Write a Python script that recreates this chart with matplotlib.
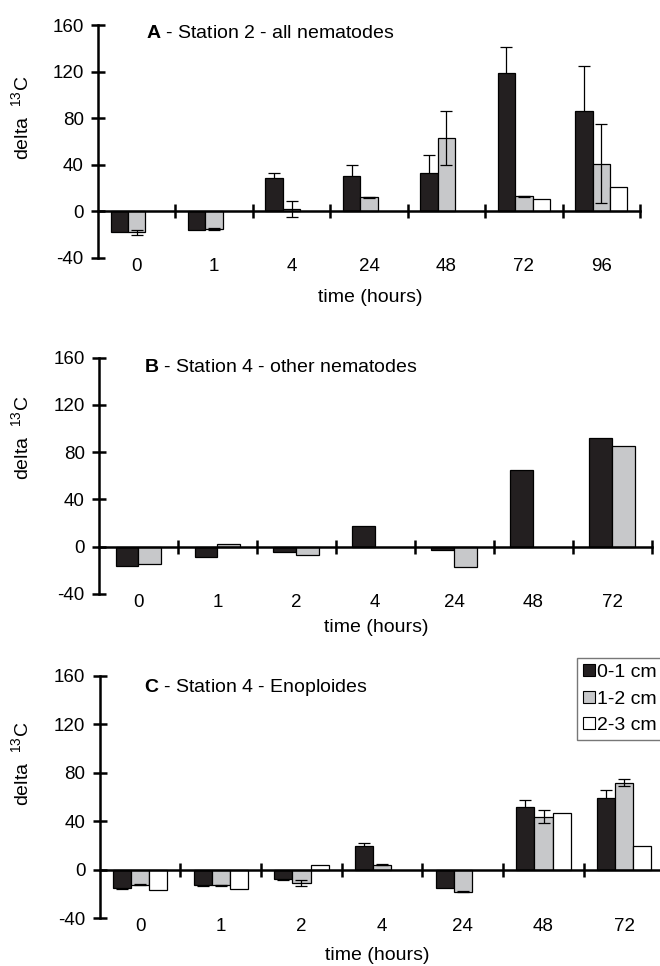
import numpy as np
import matplotlib
matplotlib.use("Agg")
import matplotlib.pyplot as plt
from matplotlib.lines import Line2D

plt.rcParams['font.family'] = ['Liberation Sans', 'DejaVu Sans']
plt.rcParams['mathtext.fontset'] = 'custom'
plt.rcParams['mathtext.rm'] = 'Liberation Sans'
plt.rcParams['mathtext.bf'] = 'Liberation Sans:bold'

nan = np.nan
series_labels = ['0-1 cm', '1-2 cm', '2-3 cm']

hours_A = ['0', '1', '4', '24', '48', '72', '96']
A_01 = [-18, -16, 29, 30, 33, 119, 86]
A_12 = [-18, -15, 2, 12, 63, 13, 41]
A_23 = [nan, nan, nan, nan, nan, 11, 21]
A_01_err = [nan, nan, 4, 10, 15, 22, 39]
A_12_err = [2, 1, 7, 0.5, 23, 0.5, 34]
A_23_err = [nan] * 7

hours_B = ['0', '1', '2', '4', '24', '48', '72']
B_01 = [-16, -9, -4.6, 17.4, -2.6, 64.6, 92]
B_12 = [-14.6, 2.6, -7.4, nan, -16.9, nan, 85.4]

hours_C = ['0', '1', '2', '4', '24', '48', '72']
C_01 = [-15.4, -12.7, -7.7, 19.6, -15.4, 52, 59]
C_12 = [-12.4, -12.7, -10.5, 4.1, -17.9, 44, 72]
C_23 = [-16.5, -16, 3.9, nan, nan, 47, 19.3]
C_01_err = [0.5, 0.5, 0.5, 2.5, nan, 6, 7]
C_12_err = [0.5, 0.5, 2.5, 0.5, 0.5, 5, 2.7]
C_23_err = [nan] * 7

titles = [('A', ' - Station 2 - all nematodes'),
          ('B', ' - Station 4 - other nematodes'),
          ('C', ' - Station 4 - Enoploides')]

colors = ['#231f20', '#c7c8ca', '#ffffff']
FS_TICK = 13.5
FS = 14
W, H = 660, 966
fig = plt.figure(figsize=(W / 100, H / 100), dpi=100)


def px_axes(left, right, top, bottom):
    return fig.add_axes([left / W, 1 - bottom / H, (right - left) / W, (bottom - top) / H])


def panel(ax, cats, series, errs, title, px_box, title_px):
    left, right, top, bottom = px_box
    n = len(cats)
    x = np.arange(n)
    k = len(series)
    bw = 1.0 / (k + 1.45)
    for i, (vals, err) in enumerate(zip(series, errs)):
        vals = np.array(vals, float)
        off = (i - (k - 1) / 2) * bw
        ax.bar(x + off, vals, width=bw, color=colors[i], edgecolor='black',
               linewidth=0.9, zorder=2)
        if err is not None:
            err = np.array(err, float)
            m = ~np.isnan(err) & ~np.isnan(vals)
            ax.errorbar(x[m] + off, vals[m], yerr=err[m], fmt='none',
                        ecolor='black', elinewidth=0.9, capsize=4, capthick=0.9,
                        zorder=1.5 if i == 0 else 3)
    ax.set_xlim(-0.5, n - 0.5)
    ax.set_ylim(-40, 160)
    for s in ['top', 'right']:
        ax.spines[s].set_visible(False)
    ax.spines['left'].set_linewidth(1.8)
    ax.spines['bottom'].set_position(('data', 0))
    ax.spines['bottom'].set_linewidth(1.8)
    ax.spines['bottom'].set_zorder(4)
    ax.set_yticks([-40, 0, 40, 80, 120, 160])
    ax.set_yticklabels(['-40', '0', '40', '80', '120', '160'])
    ax.tick_params(axis='y', direction='inout', length=9.5, width=1.8,
                   labelsize=FS_TICK, pad=5.5)
    ax.set_xticks(np.arange(n) + 0.5)
    ax.set_xticklabels([])
    ax.tick_params(axis='x', direction='inout', length=9.5, width=1.8)
    sec = ax.secondary_xaxis('bottom')
    sec.set_xticks(x, cats)
    sec.spines['bottom'].set_visible(False)
    sec.tick_params(length=0, labelsize=FS_TICK, pad=0)
    tx = (title_px[0] - left) / (right - left)
    ty = (bottom - title_px[1]) / (bottom - top)
    ax.text(tx, ty, r'$\mathbf{' + title[0] + '}$' + title[1],
            transform=ax.transAxes, fontsize=FS, va='center', ha='left')


boxA = (98, 640, 25, 258)
boxB = (99, 651.5, 357.7, 594)
boxC = (99.7, 664.6, 676, 918.3)
axA = px_axes(*boxA)
panel(axA, hours_A, [A_01, A_12, A_23], [A_01_err, A_12_err, A_23_err],
      titles[0], boxA, (146.5, 34))
axB = px_axes(*boxB)
panel(axB, hours_B, [B_01, B_12], [None, None], titles[1], boxB, (144.5, 368))
axC = px_axes(*boxC)
panel(axC, hours_C, [C_01, C_12, C_23], [C_01_err, C_12_err, C_23_err],
      titles[2], boxC, (144.5, 687))

# axis titles
for yc, xl_x, xl_y in [(118, 370.5, 297), (438, 376, 627), (764, 377, 955)]:
    fig.text(22 / W, 1 - yc / H, r'delta  $^{13}$C', rotation=90, fontsize=FS,
             ha='center', va='center')
    fig.text(xl_x / W, 1 - xl_y / H, 'time (hours)', fontsize=FS,
             ha='center', va='center')

handles = [Line2D([], [], marker='s', linestyle='none', markersize=9,
                  markerfacecolor=c, markeredgecolor='black', markeredgewidth=0.8)
           for c in colors]
leg = fig.legend(handles, series_labels, loc='upper left',
                 bbox_to_anchor=(577 / W, 1 - 657.7 / H), fontsize=FS,
                 frameon=True, fancybox=False, edgecolor='#555555',
                 handlelength=0.6, handletextpad=0.15, labelspacing=0.45,
                 borderpad=0.3, borderaxespad=0, handleheight=0.7)
leg.get_frame().set_linewidth(1.0)

fig.savefig('out.png', dpi=100)
